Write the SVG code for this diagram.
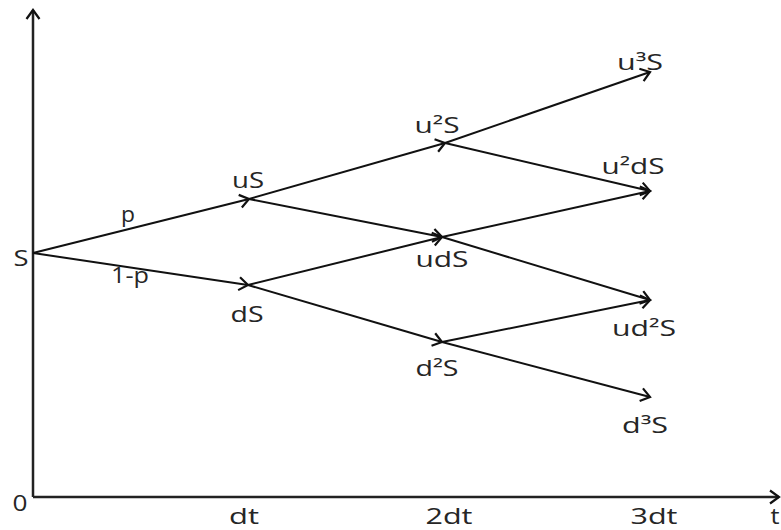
<svg xmlns="http://www.w3.org/2000/svg" width="781" height="530" viewBox="0 0 781 530">
<style>
text{font-family:"Open Sans","Noto Sans","Liberation Sans",sans-serif;font-size:21px;fill:#262626;text-anchor:middle}
.edge{stroke:#111;stroke-width:2;fill:none;marker-end:url(#arr)}
.axis{stroke:#222;stroke-width:2.5;fill:none;marker-end:url(#arr)}
</style>
<defs>
<marker id="arr" markerUnits="userSpaceOnUse" markerWidth="14" markerHeight="16" refX="11" refY="8" orient="auto" viewBox="0 0 14 16">
<path d="M2,1.5 L11,8 L2,14.5" fill="none" stroke="#111" stroke-width="2.2" stroke-linejoin="miter"/>
</marker>
</defs>
<rect width="781" height="530" fill="#fff"/>
<g id="axes">
<line class="axis" x1="33" y1="497" x2="33" y2="10"/>
<line class="axis" x1="33" y1="497" x2="779" y2="497"/>
<text x="20" y="511" textLength="15" lengthAdjust="spacingAndGlyphs">0</text>
<text x="244" y="524" textLength="30" lengthAdjust="spacingAndGlyphs">dt</text>
<text x="449" y="524" textLength="47" lengthAdjust="spacingAndGlyphs">2dt</text>
<text x="654" y="524" textLength="47" lengthAdjust="spacingAndGlyphs">3dt</text>
<text x="775" y="524" textLength="9" lengthAdjust="spacingAndGlyphs">t</text>
</g>
<g id="connectors">
<line class="edge" x1="33" y1="253" x2="249" y2="199"/>
<line class="edge" x1="33" y1="253" x2="248" y2="285"/>
<line class="edge" x1="249" y1="199" x2="445" y2="143"/>
<line class="edge" x1="249" y1="199" x2="442" y2="237"/>
<line class="edge" x1="248" y1="285" x2="442" y2="237"/>
<line class="edge" x1="248" y1="285" x2="442" y2="342"/>
<line class="edge" x1="445" y1="143" x2="650" y2="72"/>
<line class="edge" x1="445" y1="143" x2="650" y2="191"/>
<line class="edge" x1="442" y1="237" x2="650" y2="191"/>
<line class="edge" x1="442" y1="237" x2="650" y2="300"/>
<line class="edge" x1="442" y1="342" x2="650" y2="300"/>
<line class="edge" x1="442" y1="342" x2="650" y2="397"/>
<text x="128" y="222" textLength="14" lengthAdjust="spacingAndGlyphs">p</text>
<text x="130" y="283" textLength="38" lengthAdjust="spacingAndGlyphs">1-p</text>
</g>
<g id="node-S"><text x="21" y="266" textLength="15" lengthAdjust="spacingAndGlyphs">S</text></g>
<g id="node-uS"><text x="248" y="188" textLength="32" lengthAdjust="spacingAndGlyphs">uS</text></g>
<g id="node-dS"><text x="247" y="322" textLength="33" lengthAdjust="spacingAndGlyphs">dS</text></g>
<g id="node-u2S"><text x="437" y="133" textLength="45" lengthAdjust="spacingAndGlyphs">u²S</text></g>
<g id="node-udS"><text x="442" y="267" textLength="53" lengthAdjust="spacingAndGlyphs">udS</text></g>
<g id="node-d2S"><text x="437" y="376" textLength="43" lengthAdjust="spacingAndGlyphs">d²S</text></g>
<g id="node-u3S"><text x="640" y="70" textLength="46" lengthAdjust="spacingAndGlyphs">u³S</text></g>
<g id="node-u2dS"><text x="633" y="174" textLength="63" lengthAdjust="spacingAndGlyphs">u²dS</text></g>
<g id="node-ud2S"><text x="644" y="336" textLength="64" lengthAdjust="spacingAndGlyphs">ud²S</text></g>
<g id="node-d3S"><text x="645" y="433" textLength="46" lengthAdjust="spacingAndGlyphs">d³S</text></g>
</svg>
